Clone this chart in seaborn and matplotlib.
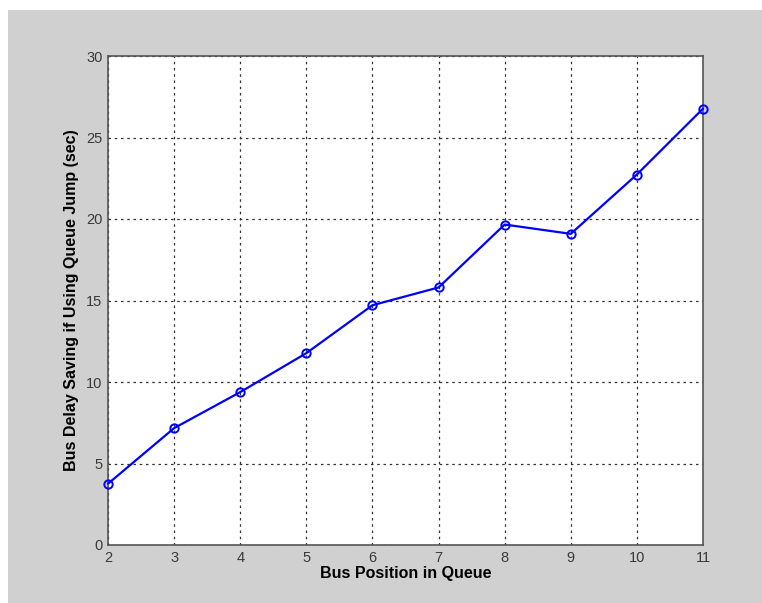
import numpy as np
import pandas as pd
import seaborn as sns
import matplotlib.pyplot as plt
from matplotlib.patches import Rectangle

positions = [2, 3, 4, 5, 6, 7, 8, 9, 10, 11]
savings = [3.76, 7.17, 9.38, 11.77, 14.71, 15.8, 19.66, 19.09, 22.73, 26.77]

df = pd.DataFrame({'pos': positions, 'saving': savings})

sns.set_style('white')
plt.rcParams['font.family'] = ['Liberation Sans', 'DejaVu Sans']

fig = plt.figure(figsize=(7.62, 6.03), dpi=100, facecolor='white')
# gray matlab-style figure background
bg = Rectangle((8 / 762, 0), 1, 1 - 10 / 603, transform=fig.transFigure,
               facecolor='#d0d0d0', edgecolor='none', zorder=-10)
fig.add_artist(bg)
ax = fig.add_axes([108 / 762, 58 / 603, 595 / 762, 489 / 603])
ax.set_zorder(1)
ax.set_facecolor('white')

sns.lineplot(data=df, x='pos', y='saving', ax=ax, color='#0000ff', lw=1.6,
             marker='o', markersize=6, markerfacecolor='none',
             markeredgecolor='#0000ff', markeredgewidth=1.4, clip_on=False,
             zorder=5)

ax.set_xlim(2, 11)
ax.set_ylim(0, 30)
ax.set_xticks(range(2, 12))
ax.set_yticks(range(0, 31, 5))
ax.grid(True, color='#333333', linestyle=(0, (2, 3)), linewidth=0.9)
ax.tick_params(direction='in', length=4, color='#555555', labelsize=10.5,
               labelcolor='#3a3a3a', pad=4)
for s in ax.spines.values():
    s.set_color('#555555')
    s.set_linewidth(1.2)
    s.set_visible(True)

ax.set_xlabel('Bus Position in Queue', fontsize=11.5, fontweight='bold',
              labelpad=1, color='black')
ax.set_ylabel('Bus Delay Saving if Using Queue Jump (sec)', fontsize=11.5,
              fontweight='bold', labelpad=5, color='black')

fig.savefig('out.png', dpi=100, facecolor=fig.get_facecolor())
